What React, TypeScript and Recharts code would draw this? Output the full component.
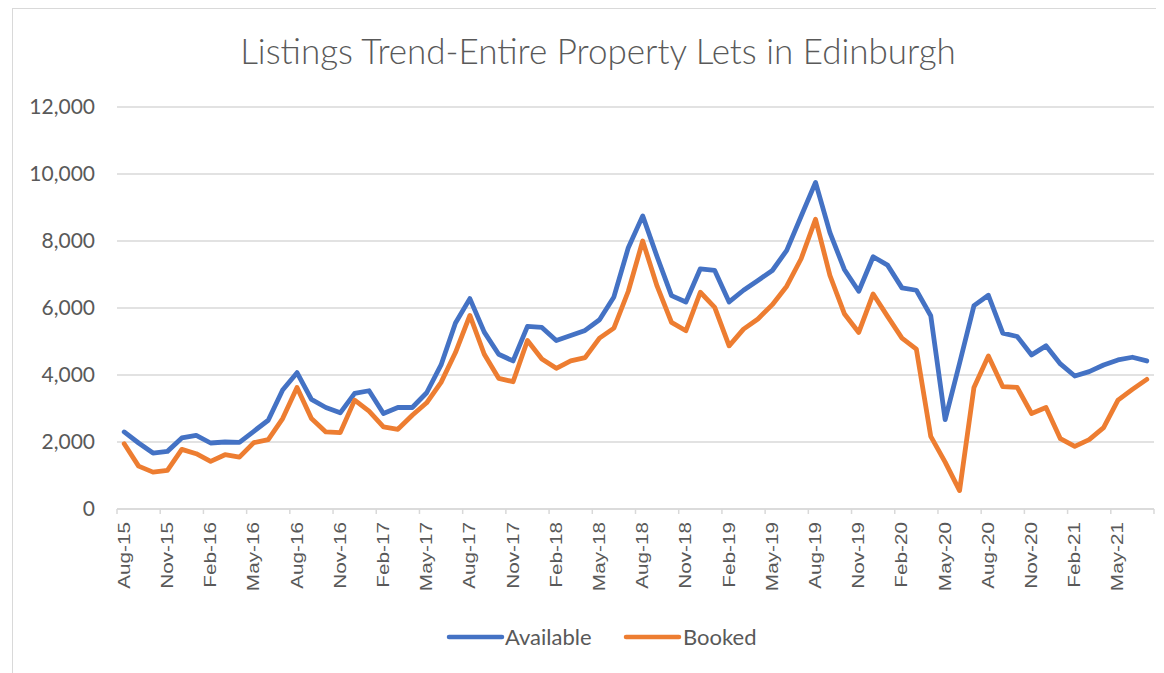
import { CartesianGrid, Line, LineChart, XAxis, YAxis } from "recharts";

const months = [
  "Aug-15", "Sep-15", "Oct-15", "Nov-15", "Dec-15",
  "Jan-16", "Feb-16", "Mar-16", "Apr-16", "May-16", "Jun-16", "Jul-16", "Aug-16", "Sep-16", "Oct-16", "Nov-16", "Dec-16",
  "Jan-17", "Feb-17", "Mar-17", "Apr-17", "May-17", "Jun-17", "Jul-17", "Aug-17", "Sep-17", "Oct-17", "Nov-17", "Dec-17",
  "Jan-18", "Feb-18", "Mar-18", "Apr-18", "May-18", "Jun-18", "Jul-18", "Aug-18", "Sep-18", "Oct-18", "Nov-18", "Dec-18",
  "Jan-19", "Feb-19", "Mar-19", "Apr-19", "May-19", "Jun-19", "Jul-19", "Aug-19", "Sep-19", "Oct-19", "Nov-19", "Dec-19",
  "Jan-20", "Feb-20", "Mar-20", "Apr-20", "May-20", "Jun-20", "Jul-20", "Aug-20", "Sep-20", "Oct-20", "Nov-20", "Dec-20",
  "Jan-21", "Feb-21", "Mar-21", "Apr-21", "May-21", "Jun-21", "Jul-21",
];

const available = [
  2300, 1970, 1670, 1720, 2120, 2200, 1970, 2000, 1990, 2320, 2650, 3550,
  4070, 3270, 3030, 2870, 3450, 3530, 2850, 3030, 3030, 3470, 4300, 5550,
  6280, 5280, 4620, 4420, 5450, 5420, 5030, 5180, 5330, 5650, 6330, 7800,
  8750, 7530, 6370, 6180, 7170, 7120, 6180, 6530, 6820, 7120, 7720, 8740,
  9750, 8250, 7150, 6500, 7530, 7280, 6600, 6530, 5770, 2670, 4350, 6070,
  6380, 5250, 5150, 4600, 4870, 4330, 3970, 4100, 4300, 4450, 4530, 4420,
];

const booked = [
  1950, 1280, 1100, 1150, 1780, 1650, 1420, 1620, 1550, 1980, 2070, 2700,
  3630, 2700, 2300, 2280, 3250, 2920, 2450, 2380, 2800, 3170, 3780, 4670,
  5780, 4620, 3900, 3800, 5030, 4480, 4200, 4420, 4520, 5100, 5400, 6500,
  8000, 6650, 5570, 5320, 6470, 6020, 4870, 5370, 5670, 6100, 6650, 7470,
  8650, 6970, 5830, 5270, 6420, 5750, 5100, 4770, 2170, 1400, 550, 3630,
  4570, 3650, 3630, 2850, 3030, 2100, 1870, 2070, 2430, 3250, 3570, 3870,
];

const yTicks = [0, 2000, 4000, 6000, 8000, 10000, 12000];

const seriesNames = ["Available", "Booked"];
const seriesColors = ["#4472C4", "#ED7D31"];

const data = months.map((m, i) => ({
  month: m,
  Available: available[i],
  Booked: booked[i],
}));

const W = 1156;
const H = 665;
const STEP = 14.4;
const GRID = "#d9d9d9";
const TEXT = "#595959";

function MonthTick(props: any) {
  const { x, y, payload, index, visibleTicksCount } = props;
  const axisY = y - 5;
  const isLast = index === visibleTicksCount - 1;
  return (
    <g>
      <line x1={x - STEP / 2} x2={x - STEP / 2} y1={axisY} y2={axisY + 5} stroke={GRID} strokeWidth={1.5} />
      {isLast && (
        <line x1={x + STEP * 2.5} x2={x + STEP * 2.5} y1={axisY} y2={axisY + 5} stroke={GRID} strokeWidth={1.5} />
      )}
      <text
        transform={`translate(${x + 5.5}, ${y + 8}) scale(1, 1.22) rotate(-90)`}
        textAnchor="end"
        fontFamily="'Liberation Sans', Arial, sans-serif"
        fontSize={17}
        fill={TEXT}
      >
        {payload.value}
      </text>
    </g>
  );
}

export default function App() {
  return (
    <div style={{ position: "relative", width: W, height: H, overflow: "hidden" }}>
      <div
        style={{
          position: "absolute",
          left: 4,
          top: 0,
          width: W + 10,
          height: H + 10,
          borderTop: `1.5px solid ${GRID}`,
          borderLeft: `1.5px solid ${GRID}`,
        }}
      />
      <LineChart
        width={W}
        height={H}
        data={data}
        margin={{ top: 99, right: 10, left: 0, bottom: 64 }}
        style={{ position: "absolute", left: 0, top: 0 }}
      >
        <CartesianGrid vertical={false} stroke={GRID} strokeWidth={1.5} />
        <XAxis
          dataKey="month"
          interval={2}
          height={100}
          padding={{ left: STEP / 2, right: STEP / 2 }}
          axisLine={{ stroke: GRID, strokeWidth: 1.5 }}
          tickLine={false}
          tickSize={5}
          tickMargin={0}
          tick={<MonthTick />}
        />
        <YAxis
          width={109}
          domain={[0, 12000]}
          ticks={yTicks}
          axisLine={false}
          tickLine={false}
          tickSize={0}
          tickMargin={22}
          tickFormatter={(v: number) => v.toLocaleString("en-US")}
          tick={{ fill: TEXT, fontSize: 21, fontFamily: "Lato, sans-serif" }}
        />
        {seriesNames.map((name, i) => (
          <Line
            key={name}
            type="linear"
            dataKey={name}
            stroke={seriesColors[i]}
            strokeWidth={4.8}
            strokeLinejoin="round"
            strokeLinecap="round"
            dot={false}
            activeDot={false}
            isAnimationActive={false}
          />
        ))}
      </LineChart>
      <svg
        width={W}
        height={H}
        style={{ position: "absolute", left: 0, top: 0, pointerEvents: "none" }}
      >
        <text
          x={590}
          y={56}
          textAnchor="middle"
          fontFamily="Lato, sans-serif"
          fontWeight={300}
          fontSize={35}
          fill={TEXT}
        >
          Listings Trend-Entire Property Lets in Edinburgh
        </text>
        <g fontFamily="Lato, sans-serif" fontSize={22} fill={TEXT}>
          <line x1={441} x2={494} y1={629} y2={629} stroke={seriesColors[0]} strokeWidth={4.5} strokeLinecap="round" />
          <text x={497} y={629} dy="0.36em">{seriesNames[0]}</text>
          <line x1={618} x2={671} y1={629} y2={629} stroke={seriesColors[1]} strokeWidth={4.5} strokeLinecap="round" />
          <text x={675} y={629} dy="0.36em">{seriesNames[1]}</text>
        </g>
      </svg>
    </div>
  );
}
